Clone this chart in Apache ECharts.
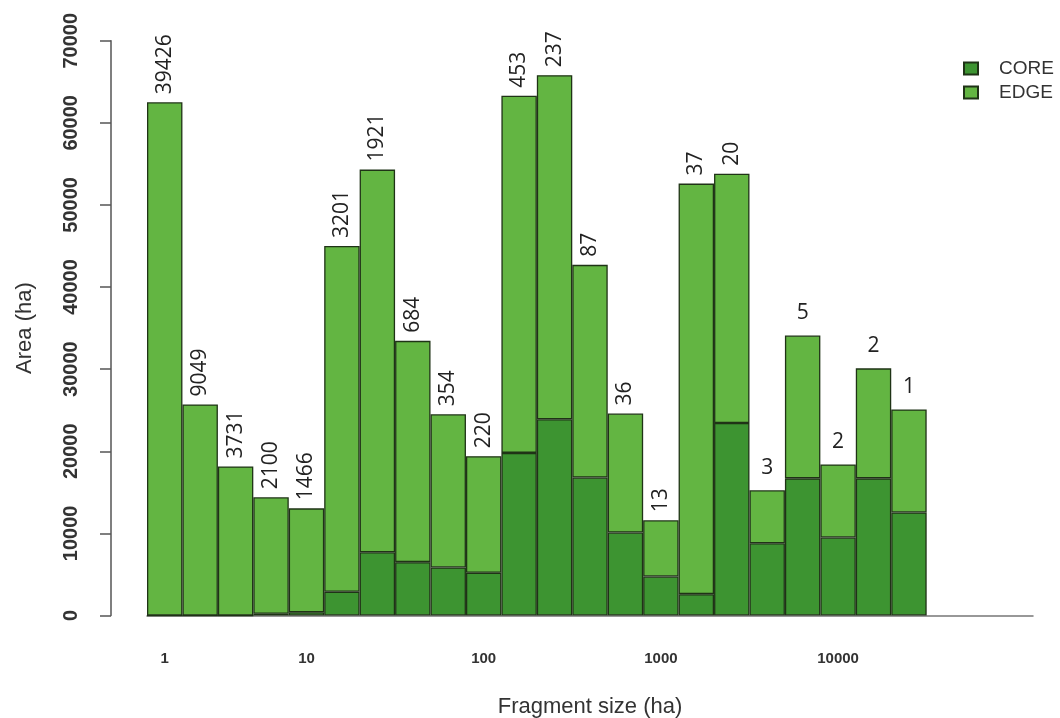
<!DOCTYPE html>
<html>
<head>
<meta charset="utf-8">
<script src="https://cdn.jsdelivr.net/npm/echarts@6/dist/echarts.min.js"></script>
<style>
html,body{margin:0;padding:0;background:#fff;}
#chart{width:1060px;height:718px;}
</style>
</head>
<body>
<div id="chart"></div>
<script>
// 22 fragment-size classes (log bins) + 3 empty slots at the right
const categories = ['c1','c2','c3','c4','c5','c6','c7','c8','c9','c10','c11','c12','c13','c14','c15','c16','c17','c18','c19','c20','c21','c22','c23','c24','c25'];
// tick labels shown under given slots
const tickLabels = {0:'1', 4:'10', 9:'100', 14:'1000', 19:'10000'};
// CORE area (ha)
const coreValues = [0, 0, 0, 200, 400, 2900, 7700, 6500, 5850, 5200, 19800, 23900, 16800, 10100, 4750, 2600, 23450, 8800, 16700, 9500, 16700, 12550];
// EDGE area (ha)
const edgeValues = [62500, 25700, 18150, 14200, 12650, 42100, 46600, 26950, 18650, 14200, 43500, 41900, 25900, 14500, 6850, 50000, 30350, 6450, 17400, 8900, 13400, 12550];
// number of fragments per class
const fragmentCounts = [39426, 9049, 3731, 2100, 1466, 3201, 1921, 684, 354, 220, 453, 237, 87, 36, 13, 37, 20, 3, 5, 2, 2, 1];

const chart = echarts.init(document.getElementById('chart'), null, {renderer:'canvas'});
const border = '#1f3316';

const edgeData = edgeValues.map((v, i) => {
  const c = fragmentCounts[i];
  const rotated = String(c).length > 1;
  return {
    value: v,
    label: rotated
      ? {rotate: 90, align: 'left', verticalAlign: 'middle', distance: 8}
      : {rotate: 0, align: 'center', verticalAlign: 'bottom', distance: 12}
  };
});

chart.setOption({
  backgroundColor: '#ffffff',
  animation: false,
  grid: {left: 147, right: 27, top: 40.7, bottom: 102.5, containLabel: false, outerBoundsMode: 'none'},
  legend: {
    orient: 'vertical',
    left: 958, top: 54,
    icon: 'rect',
    itemWidth: 14, itemHeight: 12, itemGap: 5,
    data: ['CORE', 'EDGE'],
    textStyle: {fontFamily: 'Liberation Sans', fontSize: 19, color: '#333', padding: [0,0,0,16]}
  },
  xAxis: {
    type: 'category',
    data: categories,
    name: 'Fragment size (ha)',
    nameLocation: 'middle',
    nameGap: 80,
    nameTextStyle: {fontFamily: 'Liberation Sans', fontSize: 22, color: '#333'},
    axisLine: {show: true, lineStyle: {color: '#777', width: 1.5}},
    axisTick: {show: false},
    axisLabel: {
      interval: 0,
      margin: 36,
      fontFamily: 'Liberation Sans', fontWeight: 'bold', fontSize: 15, color: '#333',
      formatter: (val, idx) => tickLabels[idx] || ''
    }
  },
  yAxis: {
    type: 'value',
    min: 0, max: 70000, interval: 10000,
    offset: 36,
    name: 'Area (ha)',
    nameLocation: 'middle',
    nameGap: 75,
    nameTextStyle: {fontFamily: 'Liberation Sans', fontSize: 22, color: '#333'},
    splitLine: {show: false},
    axisLine: {show: true, lineStyle: {color: '#555', width: 1.5}},
    axisTick: {show: true, length: 11, lineStyle: {color: '#555', width: 1.5}},
    axisLabel: {
      rotate: 90, margin: 30,
      fontFamily: 'Liberation Sans', fontWeight: 'bold', fontSize: 20, color: '#333',
      formatter: v => String(v)
    }
  },
  series: [
    {
      name: 'CORE', type: 'bar', stack: 'a',
      barCategoryGap: 0, barGap: 0,
      data: coreValues,
      itemStyle: {color: '#3d9431', borderColor: border, borderWidth: 1.3}
    },
    {
      name: 'EDGE', type: 'bar', stack: 'a',
      barCategoryGap: 0, barGap: 0,
      data: edgeData,
      itemStyle: {color: '#63b542', borderColor: border, borderWidth: 1.3},
      label: {
        show: true, position: 'top',
        fontFamily: 'Open Sans', fontSize: 21, color: '#222',
        formatter: p => String(fragmentCounts[p.dataIndex])
      }
    }
  ]
});
</script>
</body>
</html>
